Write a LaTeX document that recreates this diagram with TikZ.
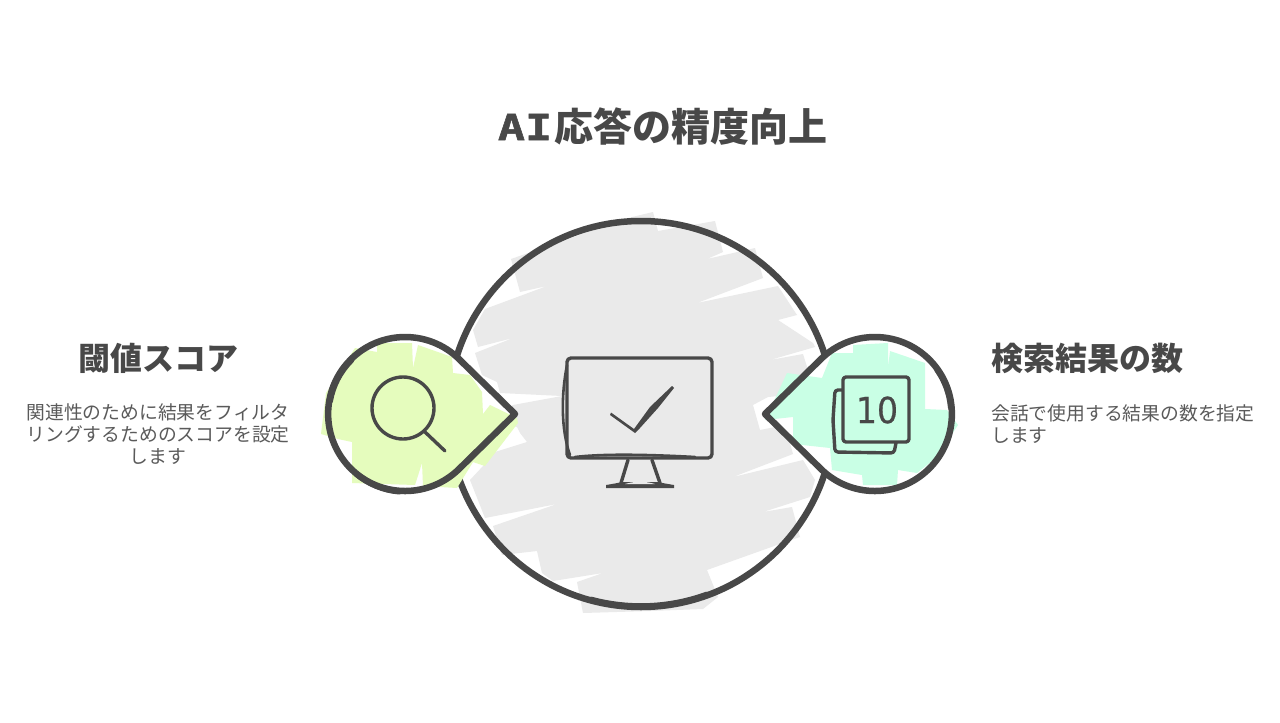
\documentclass[tikz,border=0pt]{standalone}
\usepackage{fontspec}
\setmainfont{Noto Sans CJK JP}
\newfontfamily\aifont[FakeStretch=1.25,FakeBold=1.6]{DejaVu Sans Mono}
\newfontfamily\numfont[FakeStretch=0.92,FakeBold=0.5]{DejaVu Sans}
\definecolor{ink}{HTML}{484848}
\definecolor{bodyink}{HTML}{5A5A5A}
\definecolor{patchgray}{HTML}{EAEAEA}
\definecolor{patchlime}{HTML}{E5FCBD}
\definecolor{patchmint}{HTML}{C9FFE5}
\tikzset{
  outline/.style={draw=ink,line width=6.5,line join=round,line cap=round},
  accent/.style={draw=ink,line width=6,line cap=round},
  iconline/.style={draw=ink,line width=3.4,line join=round,line cap=round},
  sketchline/.style={draw=ink,line width=2.6,line cap=round},
  titletext/.style={text=ink,inner sep=0,font=\fontsize{39}{44}\selectfont\bfseries},
  headtext/.style={text=ink,inner sep=0,font=\fontsize{32}{38}\selectfont\bfseries},
  bodytext/.style={text=bodyink,inner sep=0,font=\fontsize{18.8}{22}\selectfont},
}
\begin{document}
\begin{tikzpicture}[x=1pt,y=-1pt]
\useasboundingbox[fill=white] (0,0) rectangle (1280,723);
% gray hachure
\fill[patchgray] (628,218)--(653,212)--(658,231)--(715,221)--(723,252)--(707,259)--(755,248)--(763,278)--(697,303)--(778,286)--(797,315)--(778,320)--(813,343)--(815,347)--(770,360)--(803,354)--(808,370)--(790,395)--(768,397)--(753,405)--(760,430)--(785,425)--(793,454)--(733,477)--(803,460)--(815,480)--(810,497)--(763,512)--(792,507)--(800,537)--(777,545)--(707,570)--(718,597)--(703,609)--(650,611)--(583,613)--(577,582)--(603,573)--(553,581)--(542,573)--(537,551)--(502,555)--(493,526)--(557,504)--(485,518)--(470,480)--(483,466)--(495,452)--(527,442)--(520,433)--(517,427)--(490,420)--(513,405)--(562,396)--(500,393)--(497,382)--(482,375)--(475,353)--(513,338)--(478,347)--(473,330)--(485,309)--(547,286)--(520,292)--(511,259)--cycle;
\draw[outline] (641,414) circle[radius=193];
\draw[accent] (641,413.2) ++(70:193) arc[start angle=70,end angle=105,radius=193];
% left teardrop
\coordinate (ltip) at (515,414);
\coordinate (ltan) at (459,359);
\fill[white] (ltip)--(ltan) arc[start angle=-45.6,end angle=-314.4,radius=77]--cycle;
\fill[patchlime] (355,348)--(377,352)--(377,343)--(412,343)--(413,368)--(418,345)--(452,357)--(453,373)--(470,375)--(482,392)--(483,414)--(490,405)--(517,418)--(518,423)--(485,466)--(473,462)--(457,488)--(423,486)--(422,463)--(415,485)--(352,483)--(352,442)--(338,439)--(321,434)--(326,393)--cycle;
\draw[outline] (ltip)--(ltan) arc[start angle=-45.6,end angle=-314.4,radius=77]--cycle;
\draw[accent] (405.8,414.8) ++(95:77) arc[start angle=95,end angle=130,radius=77];
\draw[accent] (405.8,414.5) ++(190:77) arc[start angle=190,end angle=225,radius=77];
% right teardrop
\coordinate (rtip) at (765,414);
\coordinate (rtan) at (821,359);
\fill[white] (rtip)--(rtan) arc[start angle=-134.4,end angle=134.4,radius=77]--cycle;
\fill[patchmint] (853,345)--(888,343)--(888,368)--(890,351)--(925,363)--(925,409)--(947,410)--(958,425)--(937,457)--(917,473)--(898,470)--(897,485)--(863,485)--(862,475)--(832,470)--(830,448)--(793,444)--(793,417)--(765,420)--(787,373)--(822,378)--(832,353)--(853,353)--cycle;
\draw[outline] (rtip)--(rtan) arc[start angle=-134.4,end angle=134.4,radius=77]--cycle;
\draw[accent] (874.2,414) ++(-35:77) arc[start angle=-35,end angle=-5,radius=77];
% magnifier
\draw[iconline] (403,408) circle[radius=31];
\coordinate (hs) at (425,432);
\coordinate (he) at (445,451);
\draw[iconline] (hs)--(he);
% monitor
\draw[iconline,rounded corners=4] (567,358) rectangle (712,458);
\draw[sketchline] (567,365) .. controls (561,395) and (561,430) .. (570,455);
\draw[sketchline] (575,457) .. controls (600,454) and (640,454) .. (695,457);
\fill[ink] (611,412.5)--(634,429)--(650,407)--(672,386)--(674,388)--(658,408)--(640,428)--(635,433)--(610,415)--cycle;
\draw[iconline] (628,460)--(621,483);
\draw[iconline] (652,460)--(660,483);
\fill[ink] (606,485) .. controls (612,484) and (618,483) .. (622,482)--(658,482) .. controls (662,483) and (668,484) .. (674,485)--(674,488)--(606,488)--cycle;
\fill[patchgray] (625,484) .. controls (635,481) and (645,481) .. (655,484)--cycle;
% cards
\draw[iconline,rounded corners=3] (842,390)--(835,390)--(833,420)--(835,452)--(894,453)--(896,443);
\draw[iconline,rounded corners=3] (843,377) rectangle (909,442);
\node (tencount) at (877,410) [inner sep=0,text=ink,font=\numfont\fontsize{36}{36}\selectfont] {10};
% texts
\node (titleai) at (525,127) [inner sep=0,text=ink,font=\aifont\fontsize{36}{38}\selectfont\bfseries] {AI};
\node (titlerest) at (691,127) [titletext] {応答の精度向上};
\node (lefthead) at (158,358) [headtext] {閾値スコア};
\node (leftbody) at (158,434) [bodytext,align=center] {関連性のために結果をフィルタ\\リングするためのスコアを設定\\します};
\node (righthead) at (991,358) [headtext,anchor=west] {検索結果の数};
\node (rightbody) at (991,424) [bodytext,anchor=west,align=left] {会話で使用する結果の数を指定\\します};
\end{tikzpicture}
\end{document}
